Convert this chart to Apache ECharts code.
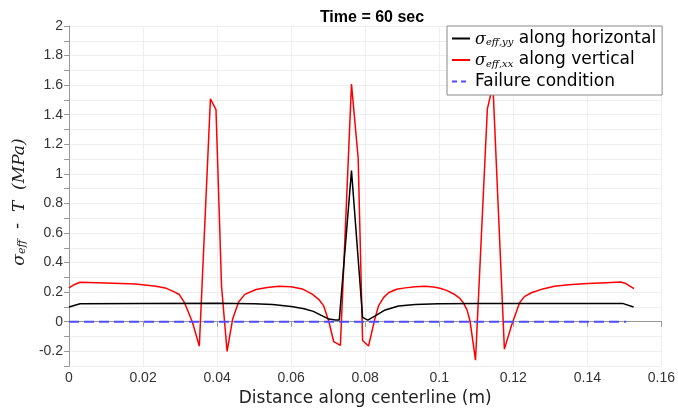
<!DOCTYPE html>
<html><head><meta charset="utf-8">
<script src="https://cdn.jsdelivr.net/npm/echarts@6/dist/echarts.min.js"></script>
<style>html,body{margin:0;padding:0;background:#fff}#c{width:678px;height:412px}</style>
</head><body><div id="c"></div>
<script>
const title = 'Time = 60 sec';
const xTicks = [0, 0.02, 0.04, 0.06, 0.08, 0.1, 0.12, 0.14, 0.16];
const yTicks = [-0.2, 0, 0.2, 0.4, 0.6, 0.8, 1, 1.2, 1.4, 1.6, 1.8, 2];

const redX = [0, 0.0015, 0.003, 0.01, 0.018, 0.0235, 0.0263, 0.028, 0.0298, 0.0312, 0.0333, 0.0352, 0.0382, 0.0397, 0.0412, 0.0427, 0.0442, 0.0458, 0.0475, 0.0505, 0.0535, 0.0567, 0.06, 0.063, 0.0657, 0.0675, 0.0688, 0.0702, 0.0715, 0.0733, 0.0763, 0.0781, 0.0793, 0.0809, 0.0826, 0.0836, 0.085, 0.0863, 0.0885, 0.0908, 0.0935, 0.0962, 0.0985, 0.1002, 0.102, 0.1042, 0.1055, 0.1065, 0.1075, 0.1083, 0.1098, 0.113, 0.1145, 0.1176, 0.1195, 0.1217, 0.123, 0.1249, 0.128, 0.1311, 0.135, 0.1401, 0.145, 0.149, 0.1504, 0.1526];
const redY = [0.229, 0.252, 0.267, 0.262, 0.256, 0.24, 0.226, 0.207, 0.184, 0.129, 0.0, -0.165, 1.507, 1.435, 0.24, -0.2, 0.018, 0.133, 0.185, 0.218, 0.232, 0.24, 0.236, 0.222, 0.187, 0.15, 0.107, 0.0, -0.135, -0.16, 1.607, 1.107, -0.127, -0.164, 0.018, 0.107, 0.165, 0.196, 0.22, 0.229, 0.237, 0.24, 0.235, 0.227, 0.212, 0.184, 0.16, 0.129, 0.08, 0.007, -0.26, 1.44, 1.6, -0.185, -0.027, 0.129, 0.17, 0.196, 0.222, 0.24, 0.25, 0.258, 0.264, 0.269, 0.258, 0.224];

const blackX = [0, 0.003, 0.02, 0.04, 0.045, 0.05, 0.055, 0.06, 0.0635, 0.066, 0.068, 0.0702, 0.072, 0.073, 0.0763, 0.0793, 0.0807, 0.0827, 0.0854, 0.089, 0.0935, 0.0998, 0.11, 0.12, 0.1495, 0.1525];
const blackY = [0.1, 0.122, 0.124, 0.125, 0.124, 0.122, 0.116, 0.103, 0.088, 0.07, 0.045, 0.018, 0.011, 0.011, 1.022, 0.029, 0.011, 0.04, 0.08, 0.107, 0.117, 0.122, 0.124, 0.124, 0.124, 0.1];

const failX = [0, 0.1505];
const failY = [0, 0];

const seriesNames = ['yy', 'xx', 'fail'];
const legendLabels = {
  yy: '{s|σ}{sub|eff,yy}{t| along horizontal}',
  xx: '{s|σ}{sub|eff,xx}{t| along vertical}',
  fail: '{t|Failure condition}'
};

const zip = (a, b) => a.map((v, i) => [v, b[i]]);

const chart = echarts.init(document.getElementById('c'), null, {renderer: 'canvas'});
const font = 'DejaVu Sans';
const tickFont = 'Liberation Sans';
chart.setOption({
  animation: false,
  backgroundColor: '#fff',
  title: {
    text: title, left: 367, top: 5, textAlign: 'center',
    textStyle: {fontFamily: tickFont, fontWeight: 'bold', fontSize: 16, color: '#000'}
  },
  grid: {left: 69, right: 14, top: 26, bottom: 41, containLabel: false},
  legend: {
    orient: 'vertical', left: 447, top: 26,
    padding: [4, 6, 5, 4], itemGap: 4, itemWidth: 18, itemHeight: 14,
    backgroundColor: '#fff', borderColor: '#888', borderWidth: 1,
    data: seriesNames.map(n => n === 'fail' ? {name: n, lineStyle: {type: [5, 4]}} : {name: n}),
    itemStyle: {opacity: 0},
    formatter: n => legendLabels[n],
    textStyle: {
      fontFamily: font, fontSize: 17, color: '#000',
      rich: {
        s: {fontFamily: 'DejaVu Serif', fontStyle: 'italic', fontSize: 16, color: '#000', lineHeight: 18, verticalAlign: 'bottom'},
        sub: {fontFamily: 'DejaVu Serif', fontStyle: 'italic', fontSize: 10, color: '#000', lineHeight: 9, verticalAlign: 'bottom'},
        t: {fontFamily: font, fontSize: 17, color: '#000', lineHeight: 18}
      }
    }
  },
  xAxis: {
    type: 'value', min: 0, max: 0.16, interval: 0.02,
    name: 'Distance along centerline (m)', nameLocation: 'middle', nameGap: 21,
    nameTextStyle: {fontFamily: font, fontSize: 17, color: '#222'},
    axisLine: {show: true, lineStyle: {color: '#999'}},
    axisTick: {show: true, length: 5, lineStyle: {color: '#999'}},
    axisLabel: {fontFamily: tickFont, fontSize: 14, color: '#333', margin: 5,
      formatter: v => xTicks.includes(+v.toFixed(3)) ? String(+v.toFixed(3)) : ''},
    splitLine: {show: true, lineStyle: {color: '#eee'}}
  },
  yAxis: {
    type: 'value', min: -0.3, max: 2, interval: 0.1,
    name: '{s|σ}{sub|eff}{t|  -  }{s|T  (MPa)}', nameLocation: 'middle', nameGap: 33, nameRotate: 90,
    nameTextStyle: {
      fontFamily: font, fontSize: 17, color: '#222', padding: [0, 12, 0, 0],
      rich: {
        s: {fontFamily: 'DejaVu Serif', fontStyle: 'italic', fontSize: 17, color: '#222', lineHeight: 20, verticalAlign: 'bottom'},
        sub: {fontFamily: 'DejaVu Serif', fontStyle: 'italic', fontSize: 11, color: '#222', lineHeight: 10, verticalAlign: 'bottom'},
        t: {fontFamily: font, fontSize: 17, color: '#222', lineHeight: 20}
      }
    },
    axisLine: {show: true, lineStyle: {color: '#999'}},
    axisTick: {show: true, length: 5, lineStyle: {color: '#999'},
      interval: (i, v) => yTicks.some(t => Math.abs(t - v) < 1e-6)},
    axisLabel: {fontFamily: tickFont, fontSize: 14, color: '#333', margin: 6,
      formatter: v => { const r = Math.round(v * 10) / 10; return yTicks.some(t => Math.abs(t - r) < 1e-6) ? String(r) : ''; }},
    splitLine: {show: true, lineStyle: {color: '#eee'},
      interval: (i, v) => yTicks.some(t => Math.abs(t - v) < 1e-6)}
  },
  series: [
    {name: 'yy', type: 'line', data: zip(blackX, blackY), symbol: 'none', lineStyle: {color: '#000', width: 1.5}, itemStyle: {color: '#000'}, z: 3},
    {name: 'xx', type: 'line', data: zip(redX, redY), symbol: 'none', lineStyle: {color: '#ff0000', width: 1.5}, itemStyle: {color: '#ff0000'}, z: 2},
    {name: 'fail', type: 'line', data: zip(failX, failY), symbol: 'none', lineStyle: {color: '#4d4dff', width: 2, type: [10, 5]}, itemStyle: {color: '#4d4dff'}, z: 4}
  ]
});
</script></body></html>
